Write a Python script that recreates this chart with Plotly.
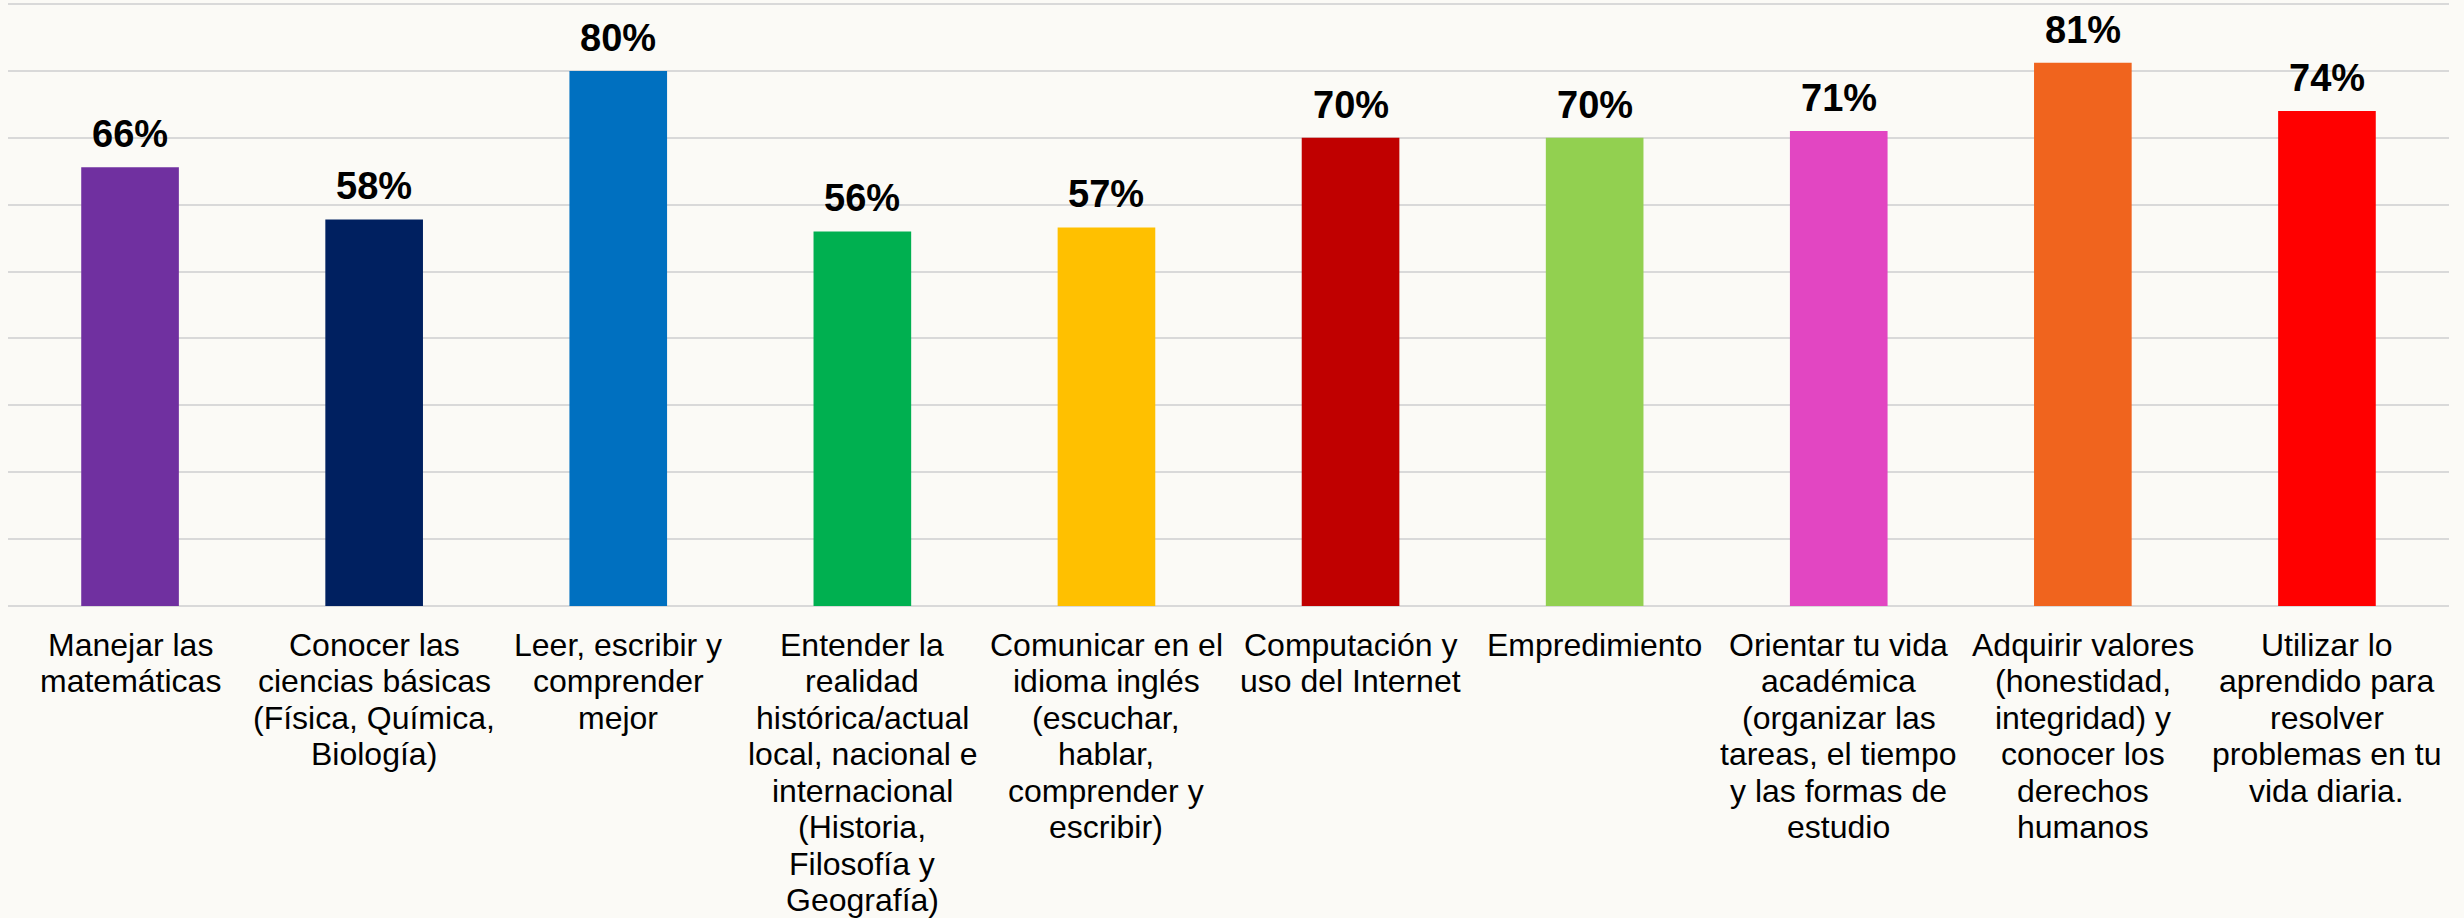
import plotly.graph_objects as go

categories = [
    "Manejar las<br>matemáticas",
    "Conocer las<br>ciencias básicas<br>(Física, Química,<br>Biología)",
    "Leer, escribir y<br>comprender<br>mejor",
    "Entender la<br>realidad<br>histórica/actual<br>local, nacional e<br>internacional<br>(Historia,<br>Filosofía y<br>Geografía)",
    "Comunicar en el<br>idioma inglés<br>(escuchar,<br>hablar,<br>comprender y<br>escribir)",
    "Computación y<br>uso del Internet",
    "Empredimiento",
    "Orientar tu vida<br>académica<br>(organizar las<br>tareas, el tiempo<br>y las formas de<br>estudio",
    "Adquirir valores<br>(honestidad,<br>integridad) y<br>conocer los<br>derechos<br>humanos",
    "Utilizar lo<br>aprendido para<br>resolver<br>problemas en tu<br>vida diaria.",
]
values = [65.6, 57.8, 80.0, 56.0, 56.6, 70.0, 70.0, 71.0, 81.2, 74.0]
labels = ["66%", "58%", "80%", "56%", "57%", "70%", "70%", "71%", "81%", "74%"]
colors = ["#7030A0", "#002060", "#0070C0", "#00B050", "#FFC000",
          "#C00000", "#92D050", "#E246C2", "#F0641E", "#FF0000"]

FONT = "Liberation Sans, Arial, sans-serif"
LINE_PITCH = 36.5
FIRST_LINE = 38.5

fig = go.Figure()
fig.add_trace(go.Bar(
    x=list(range(len(categories))),
    y=values,
    marker=dict(color=colors, line=dict(width=0)),
    width=0.4,
    hoverinfo="skip",
))

for i, (v, t) in enumerate(zip(values, labels)):
    fig.add_annotation(
        x=i, y=v, text=f"<b>{t}</b>", showarrow=False,
        yanchor="bottom", yshift=10,
        font=dict(family=FONT, size=38, color="#000000"),
    )

# category labels: one annotation per line, hung under the axis at each category
for i, cat in enumerate(categories):
    for k, line in enumerate(cat.split("<br>")):
        fig.add_annotation(
            x=i, y=0, text=line, showarrow=False,
            xanchor="center", yanchor="middle",
            yshift=-(FIRST_LINE + k * LINE_PITCH),
            font=dict(family=FONT, size=32, color="#000000"),
        )

fig.update_layout(
    width=2464, height=918,
    margin=dict(l=8, r=15, t=2, b=312, pad=0),
    paper_bgcolor="#FBFAF6",
    plot_bgcolor="#FBFAF6",
    showlegend=False,
    font=dict(family=FONT, color="#000000"),
    xaxis=dict(
        range=[-0.5, len(categories) - 0.5],
        showgrid=False,
        showticklabels=False,
        ticks="",
        showline=False,
        zeroline=False,
        automargin=False,
    ),
    yaxis=dict(
        range=[0, 90.3],
        tick0=0, dtick=10,
        showgrid=True, gridcolor="#D9D9D9", gridwidth=2,
        zeroline=True, zerolinecolor="#D9D9D9", zerolinewidth=2,
        showticklabels=False,
        showline=False,
        automargin=False,
    ),
)

fig.write_html(
    "out.html",
    config={"displayModeBar": False},
    post_script="document.body.style.margin='0px';document.body.style.background='#FBFAF6';",
)
